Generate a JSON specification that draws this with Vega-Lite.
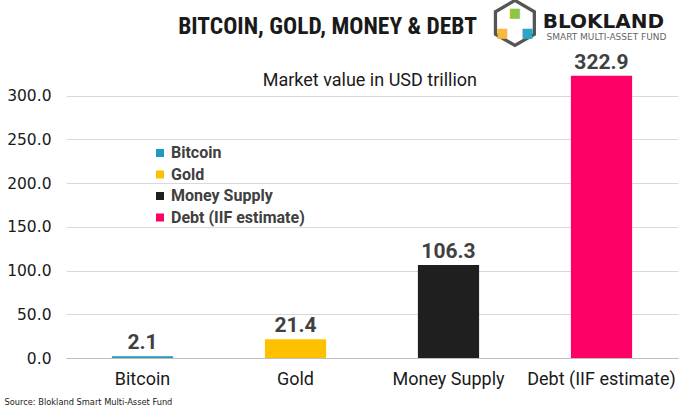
{
  "$schema": "https://vega.github.io/schema/vega-lite/v6.json",
  "width": 612,
  "height": 306,
  "autosize": {"type": "none"},
  "padding": {"left": 66, "top": 52, "right": 2, "bottom": 51},
  "background": "white",
  "title": {
    "text": "BITCOIN, GOLD, MONEY & DEBT",
    "subtitle": "Market value in USD trillion",
    "anchor": "end",
    "frame": "group",
    "dx": -201,
    "offset": -94,
    "font": "Roboto Condensed, DejaVu Sans Condensed",
    "fontWeight": "bold",
    "fontSize": 23.5,
    "color": "#1a1a1a",
    "subtitleFont": "Roboto",
    "subtitleFontSize": 18,
    "subtitleColor": "#1a1a1a",
    "subtitlePadding": 33.5
  },
  "config": {
    "font": "Roboto",
    "view": {"stroke": null}
  },
  "data": {
    "values": [
      {"asset": "Bitcoin", "value": 2.1},
      {"asset": "Gold", "value": 21.4},
      {"asset": "Money Supply", "value": 106.3},
      {"asset": "Debt (IIF estimate)", "value": 322.9}
    ]
  },
  "encoding": {
    "x": {
      "field": "asset",
      "type": "nominal",
      "sort": null,
      "scale": {"paddingInner": 0.6, "paddingOuter": 0.3},
      "axis": {
        "labelAngle": 0,
        "labelFont": "Roboto",
        "labelFontSize": 18,
        "labelColor": "#1a1a1a",
        "labelPadding": 12,
        "ticks": false,
        "domainColor": "#bfbfbf",
        "title": "Source: Blokland Smart Multi-Asset Fund",
        "titleFont": "DejaVu Sans Condensed",
        "titleFontSize": 9.2,
        "titleFontWeight": "normal",
        "titleColor": "#1a1a1a",
        "titleAnchor": "start",
        "titleAlign": "left",
        "titleBaseline": "middle",
        "titleX": -62,
        "titleY": 43
      }
    }
  },
  "layer": [
    {
      "mark": {"type": "bar"},
      "encoding": {
        "y": {
          "field": "value",
          "type": "quantitative",
          "scale": {"domain": [0, 350], "nice": false},
          "axis": {
            "values": [0, 50, 100, 150, 200, 250, 300],
            "format": ".1f",
            "labelFont": "DejaVu Sans",
            "labelFontSize": 15.5,
            "labelColor": "#1a1a1a",
            "labelPadding": 15,
            "ticks": false,
            "domain": false,
            "gridColor": "#d9d9d9",
            "title": null
          }
        },
        "color": {
          "field": "asset",
          "type": "nominal",
          "sort": null,
          "scale": {
            "domain": ["Bitcoin", "Gold", "Money Supply", "Debt (IIF estimate)"],
            "range": ["#1f9bbf", "#ffc000", "#1f1f1f", "#ff0066"]
          },
          "legend": {
            "orient": "none",
            "legendX": 86,
            "legendY": 93,
            "title": null,
            "symbolType": "square",
            "symbolSize": 64,
            "symbolStrokeWidth": 0,
            "labelFont": "Roboto",
            "labelFontSize": 16,
            "labelFontWeight": "bold",
            "labelColor": "#404040",
            "labelOffset": 3,
            "rowPadding": 5.5,
            "padding": 0
          }
        }
      }
    },
    {
      "mark": {"type": "text", "baseline": "alphabetic", "dy": -7, "fontSize": 21, "fontWeight": "bold", "color": "#404040", "font": "Roboto"},
      "encoding": {
        "y": {"field": "value", "type": "quantitative"},
        "text": {"field": "value", "type": "quantitative", "format": ".1f"}
      }
    },
    {
      "data": {"values": [{"name": "BLOKLAND", "tag": "SMART MULTI-ASSET FUND", "hex": "⬡", "cube": "■"}]},
      "layer": [
        {
          "mark": {"type": "text", "baseline": "middle", "align": "center", "fontSize": 20, "fontWeight": "bold", "font": "DejaVu Sans", "color": "#1a1a1a", "dx": 2},
          "encoding": {
            "x": {"datum": "Debt (IIF estimate)"},
            "y": {"datum": 384.5},
            "text": {"field": "name"}
          }
        },
        {
          "mark": {"type": "text", "baseline": "middle", "align": "center", "fontSize": 9, "font": "DejaVu Sans", "color": "#666666", "dx": 5},
          "encoding": {
            "x": {"datum": "Debt (IIF estimate)"},
            "y": {"datum": 367.5},
            "text": {"field": "tag"}
          }
        },
        {
          "mark": {"type": "text", "baseline": "middle", "align": "center", "fontSize": 58, "font": "DejaVu Sans", "color": "#555555", "dx": -86.5},
          "encoding": {
            "x": {"datum": "Debt (IIF estimate)"},
            "y": {"datum": 380.9},
            "text": {"field": "hex"}
          }
        },
        {
          "mark": {"type": "text", "baseline": "middle", "align": "center", "fontSize": 13, "font": "DejaVu Sans", "color": "#8dc63f", "dx": -86.5},
          "encoding": {
            "x": {"datum": "Debt (IIF estimate)"},
            "y": {"datum": 394.5},
            "text": {"field": "cube"}
          }
        },
        {
          "mark": {"type": "text", "baseline": "middle", "align": "center", "fontSize": 13, "font": "DejaVu Sans", "color": "#f7b93e", "dx": -99},
          "encoding": {
            "x": {"datum": "Debt (IIF estimate)"},
            "y": {"datum": 372.3},
            "text": {"field": "cube"}
          }
        },
        {
          "mark": {"type": "text", "baseline": "middle", "align": "center", "fontSize": 13, "font": "DejaVu Sans", "color": "#2aa6c8", "dx": -74},
          "encoding": {
            "x": {"datum": "Debt (IIF estimate)"},
            "y": {"datum": 372.3},
            "text": {"field": "cube"}
          }
        }
      ]
    }
  ]
}
